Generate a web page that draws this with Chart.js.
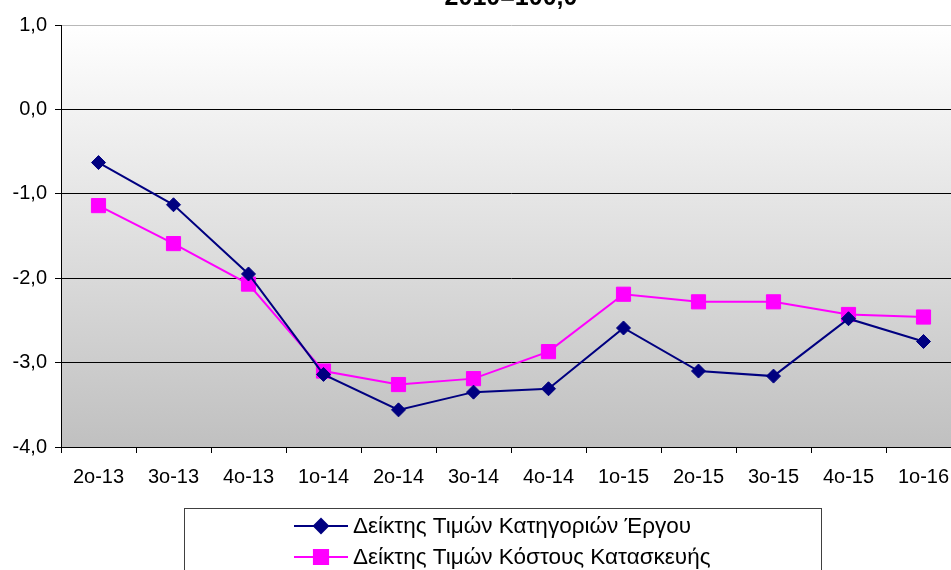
<!DOCTYPE html>
<html>
<head>
<meta charset="utf-8">
<script src="https://cdn.jsdelivr.net/npm/chart.js@4.4.0/dist/chart.umd.min.js"></script>
<style>
  html, body { margin: 0; padding: 0; background: #fff; overflow: hidden; }
  #wrap { position: relative; width: 951px; height: 570px; overflow: hidden; }
  #myChart { position: absolute; left: 0; top: -30px; }
</style>
</head>
<body>
<div id="wrap">
  <canvas id="myChart" width="980" height="600" style="width:980px;height:600px"></canvas>
</div>
<script>
// data
const quarters = ['2ο-13', '3ο-13', '4ο-13', '1ο-14', '2ο-14', '3ο-14', '4ο-14', '1ο-15', '2ο-15', '3ο-15', '4ο-15', '1ο-16'];
const categoryIndex = [-0.63, -1.13, -1.95, -3.14, -3.56, -3.35, -3.31, -2.59, -3.10, -3.16, -2.48, -2.75];
const costIndex = [-1.14, -1.59, -2.07, -3.10, -3.26, -3.19, -2.87, -2.19, -2.28, -2.28, -2.43, -2.46];
const yTicks = [1, 0, -1, -2, -3, -4];
const titleText = '2010=100,0';
const seriesNames = ['Δείκτης Τιμών Κατηγοριών Έργου', 'Δείκτης Τιμών Κόστους Κατασκευής'];

const FONT = "'Liberation Sans', Arial, sans-serif";

// background gradient + title + legend box
const excelLook = {
  id: 'excelLook',
  beforeDraw(chart) {
    const { ctx, chartArea: a } = chart;
    const g = ctx.createLinearGradient(0, a.top, 0, a.bottom);
    g.addColorStop(0, '#ffffff');
    g.addColorStop(1, '#c0c0c0');
    ctx.save();
    ctx.fillStyle = g;
    ctx.fillRect(a.left, a.top, a.right - a.left, a.bottom - a.top);
    ctx.restore();
  },
  afterDraw(chart) {
    const ctx = chart.ctx;
    ctx.save();
    // title (cut off at the top, like the source)
    ctx.fillStyle = '#000';
    ctx.font = 'bold 25px ' + FONT;
    ctx.textAlign = 'center';
    ctx.textBaseline = 'alphabetic';
    ctx.fillText(titleText, 511, 35);

    // legend
    ctx.strokeStyle = '#404040';
    ctx.lineWidth = 1;
    ctx.fillStyle = '#fff';
    ctx.fillRect(184.5, 538.5, 637, 80);
    ctx.strokeRect(184.5, 538.5, 637, 80);
    ctx.font = '22.5px ' + FONT;
    ctx.textAlign = 'left';
    ctx.textBaseline = 'middle';
    chart.data.datasets.forEach((ds, i) => {
      const y = 556 + i * 31;
      ctx.strokeStyle = ds.borderColor;
      ctx.lineWidth = 2;
      ctx.beginPath();
      ctx.moveTo(294, y);
      ctx.lineTo(348, y);
      ctx.stroke();
      Chart.helpers.drawPoint(ctx, {
        pointStyle: ds.pointStyle,
        radius: ds.pointRadius,
        rotation: 0,
        borderWidth: 1
      }, 321, y);
      ctx.fillStyle = ds.backgroundColor;
      ctx.strokeStyle = ds.borderColor;
      ctx.fill();
      ctx.fillStyle = '#000';
      ctx.fillText(ds.label, 353, y + 1);
    });
    ctx.restore();
  }
};

const ctx = document.getElementById('myChart').getContext('2d');

new Chart(ctx, {
  type: 'line',
  data: {
    labels: quarters,
    datasets: [{
      label: seriesNames[0],
      data: categoryIndex,
      borderColor: '#000080',
      backgroundColor: '#000080',
      borderWidth: 2,
      pointStyle: 'rectRot',
      pointRadius: 7,
      pointHoverRadius: 7,
      pointBorderWidth: 1,
      tension: 0
    }, {
      label: seriesNames[1],
      data: costIndex,
      borderColor: '#ff00ff',
      backgroundColor: '#ff00ff',
      borderWidth: 2,
      pointStyle: 'rect',
      pointRadius: 10,
      pointHoverRadius: 10,
      pointBorderWidth: 1,
      tension: 0
    }]
  },
  options: {
    responsive: false,
    animation: false,
    layout: { padding: { top: 55, right: 19, left: 0, bottom: 0 } },
    plugins: {
      legend: { display: false },
      title: { display: false },
      tooltip: { enabled: false }
    },
    scales: {
      x: {
        offset: true,
        afterFit(scale) { scale.height = 123; },
        grid: {
          offset: true,
          drawOnChartArea: false,
          color: '#000',
          tickLength: 6
        },
        border: { color: '#000', width: 1 },
        ticks: {
          color: '#000',
          font: { family: FONT, size: 20 },
          padding: 12,
          maxRotation: 0,
          autoSkip: false
        }
      },
      y: {
        min: -4,
        max: 1,
        afterFit(scale) { scale.width = 61; },
        afterBuildTicks(scale) {
          scale.ticks = yTicks.map(v => ({ value: v }));
        },
        grid: {
          color: (c) => (c.tick && c.tick.value === 1 ? '#b8b8b8' : '#000'),
          tickColor: '#000',
          tickLength: 6
        },
        border: { color: '#000', width: 1 },
        ticks: {
          color: '#000',
          font: { family: FONT, size: 20 },
          padding: 8,
          callback: (v) => v.toFixed(1).replace('.', ',')
        }
      }
    }
  },
  plugins: [excelLook]
});
</script>
</body>
</html>
